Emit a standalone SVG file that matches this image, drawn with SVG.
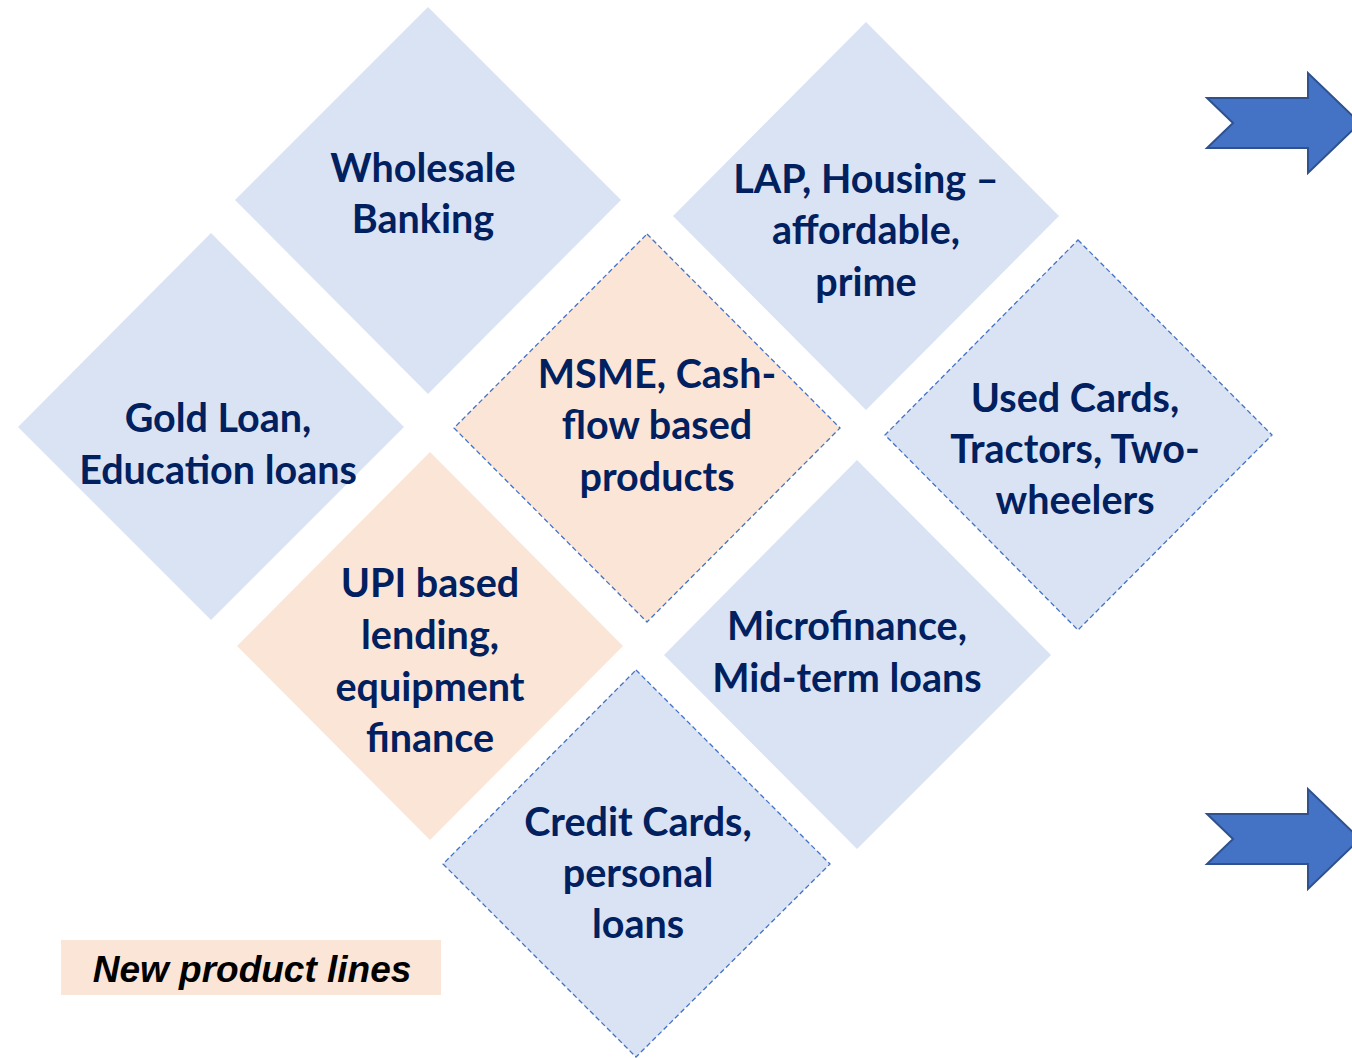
<svg xmlns="http://www.w3.org/2000/svg" width="1352" height="1058" viewBox="0 0 1352 1058">
<style>
.blue{fill:#DAE3F3}
.peach{fill:#FBE5D6}
.dash{stroke:#4472C4;stroke-width:1.3;stroke-dasharray:5 3}
.t{font-family:Lato,"Open Sans",sans-serif;font-weight:bold;font-size:39.5px;fill:#002060;text-anchor:middle}
.arrow{fill:#4472C4;stroke:#2F528F;stroke-width:2}
.leg{font-family:"Liberation Sans",Arial,sans-serif;font-weight:bold;font-style:italic;font-size:37px;fill:#000;text-anchor:middle}
</style>
<rect width="1352" height="1058" fill="#fff"/>
<g id="wholesale">
<polygon class="blue" points="428,7 621,200 428,394 235,200"/>
<text class="t" x="423" y="182">Wholesale</text>
<text class="t" x="423" y="233">Banking</text>
</g>
<g id="lap">
<polygon class="blue" points="866,22 1059,216 866,410 673,216"/>
<text class="t" x="866" y="193">LAP, Housing –</text>
<text class="t" x="866" y="244">affordable,</text>
<text class="t" x="866" y="296">prime</text>
</g>
<g id="gold">
<polygon class="blue" points="211,233 404,427 211,620 18,427"/>
<text class="t" x="218" y="432">Gold Loan,</text>
<text class="t" x="218" y="484">Education loans</text>
</g>
<g id="msme">
<polygon class="peach dash" points="647,234 840,428 647,622 454,428"/>
<text class="t" x="657" y="388">MSME, Cash-</text>
<text class="t" x="657" y="439">flow based</text>
<text class="t" x="657" y="491">products</text>
</g>
<g id="used">
<polygon class="blue dash" points="1078,240 1272,435 1078,630 885,435"/>
<text class="t" x="1075" y="412">Used Cards,</text>
<text class="t" x="1075" y="463">Tractors, Two-</text>
<text class="t" x="1075" y="514">wheelers</text>
</g>
<g id="upi">
<polygon class="peach" points="430,452 623,646 430,840 237,646"/>
<text class="t" x="430" y="597">UPI based</text>
<text class="t" x="430" y="649">lending,</text>
<text class="t" x="430" y="701">equipment</text>
<text class="t" x="430" y="752">finance</text>
</g>
<g id="micro">
<polygon class="blue" points="857,460 1051,655 857,849 664,655"/>
<text class="t" x="847" y="640">Microfinance,</text>
<text class="t" x="847" y="692">Mid-term loans</text>
</g>
<g id="credit">
<polygon class="blue dash" points="636,670 830,864 636,1057 443,864"/>
<text class="t" x="638" y="836">Credit Cards,</text>
<text class="t" x="638" y="887">personal</text>
<text class="t" x="638" y="938">loans</text>
</g>
<g id="legend">
<rect x="61" y="940" width="380" height="55" fill="#FBE5D6"/>
<text class="leg" x="252" y="982">New product lines</text>
</g>
<g id="connectors">
<polygon class="arrow" points="1207,98 1308,98 1308,73 1360,123 1308,173 1308,148 1207,148 1233,123"/>
<polygon class="arrow" points="1207,814 1308,814 1308,789 1360,839 1308,889 1308,864 1207,864 1233,839"/>
</g>
</svg>
